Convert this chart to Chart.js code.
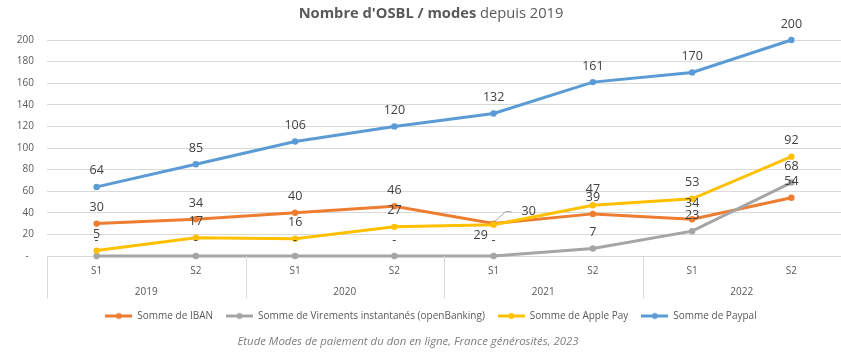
<!DOCTYPE html>
<html><head><meta charset="utf-8">
<script src="https://cdn.jsdelivr.net/npm/chart.js@4/dist/chart.umd.min.js"></script>
<style>html,body{margin:0;padding:0;background:#fff}canvas{display:block}</style>
</head><body>
<canvas id="c" width="841" height="355"></canvas>
<script>
// ---- data ----
const semesters = ['S1','S2','S1','S2','S1','S2','S1','S2'];
const years = ['2019','2020','2021','2022'];
const iban = [30,34,40,46,30,39,34,54];
const virements = [0,0,0,0,0,7,23,68];
const applePay = [5,17,16,27,29,47,53,92];
const paypal = [64,85,106,120,132,161,170,200];
const seriesNames = ['Somme de IBAN','Somme de Virements instantanés (openBanking)','Somme de Apple Pay','Somme de Paypal'];
const titleBold = "Nombre d'OSBL / modes";
const titleRest = " depuis 2019";
const sourceText = "Etude Modes de paiement du don en ligne, France générosités, 2023";

const colors = ['#ED7D31','#A5A5A5','#FFC000','#5B9BD5'];
const FONT = "'Open Sans', sans-serif";

function markerImage(color){
  const cv = document.createElement('canvas');
  cv.width = 27; cv.height = 9;
  const g = cv.getContext('2d');
  g.strokeStyle = color; g.lineWidth = 3;
  g.beginPath(); g.moveTo(0,4.5); g.lineTo(27,4.5); g.stroke();
  g.fillStyle = color; g.beginPath(); g.arc(13.5,4.5,3,0,Math.PI*2); g.fill();
  return cv;
}
const markers = colors.map(markerImage);

// special label placements: [datasetIndex-pointIndex] -> offset
const specialLabels = {
  '0-4': {dx: 35, dy: -12, leader: true},
  '2-4': {dx: -13, dy: 11}
};

const labelPlugin = {
  id: 'valueLabels',
  afterDatasetsDraw(chart){
    const ctx = chart.ctx;
    ctx.save();
    ctx.font = "12.5px " + FONT;
    ctx.fillStyle = '#404040';
    ctx.textAlign = 'center';
    ctx.textBaseline = 'middle';
    chart.data.datasets.forEach((ds, di) => {
      const meta = chart.getDatasetMeta(di);
      meta.data.forEach((pt, i) => {
        const v = ds.data[i];
        const txt = v === 0 ? '-' : String(v);
        const sp = specialLabels[di + '-' + i];
        let x = pt.x, y = pt.y - 16;
        if (sp) {
          x = pt.x + sp.dx; y = pt.y + sp.dy;
          if (sp.leader) {
            ctx.save();
            ctx.strokeStyle = '#A6A6A6'; ctx.lineWidth = 1;
            ctx.beginPath();
            ctx.moveTo(pt.x + 1, pt.y - 2);
            ctx.lineTo(pt.x + 12, pt.y - 12);
            ctx.lineTo(pt.x + 18, pt.y - 12);
            ctx.stroke();
            ctx.restore();
          }
        }
        ctx.fillText(txt, x, y);
      });
    });
    ctx.restore();
  }
};

const decorPlugin = {
  id: 'decor',
  afterLayout(chart){
    if (chart.legend) { chart.legend.left -= 13; chart.legend.right -= 13; }
  },
  afterDraw(chart){
    const ctx = chart.ctx;
    const xs = chart.scales.x;
    const area = chart.chartArea;
    ctx.save();
    // title
    ctx.textBaseline = 'middle';
    ctx.fillStyle = '#595959';
    const fb = "bold 14.7px " + FONT, fn = "14.7px " + FONT;
    ctx.font = fb; const wb = ctx.measureText(titleBold).width;
    ctx.font = fn; const wn = ctx.measureText(titleRest).width;
    let tx = 431 - (wb + wn) / 2;
    ctx.textAlign = 'left';
    ctx.font = fb; ctx.fillText(titleBold, tx, 14);
    ctx.font = fn; ctx.fillText(titleRest, tx + wb, 14);
    // year groups and separators
    const step = xs.getPixelForValue(1) - xs.getPixelForValue(0);
    ctx.strokeStyle = '#D9D9D9'; ctx.lineWidth = 1;
    for (let k = 0; k <= years.length; k++) {
      const bx = Math.round(xs.getPixelForValue(k * 2) - step / 2) + 0.5;
      ctx.beginPath(); ctx.moveTo(bx, area.bottom); ctx.lineTo(bx, area.bottom + 42); ctx.stroke();
    }
    ctx.font = "10px " + FONT;
    ctx.textAlign = 'center';
    ctx.fillStyle = '#595959';
    years.forEach((yr, k) => {
      const cx = (xs.getPixelForValue(k * 2) + xs.getPixelForValue(k * 2 + 1)) / 2;
      ctx.fillText(yr, cx, area.bottom + 36);
    });
    // source
    ctx.font = "italic 11.4px " + FONT;
    ctx.fillStyle = '#7F7F7F';
    ctx.fillText(sourceText, 408, 342);
    ctx.restore();
  }
};

const seriesData = [iban, virements, applePay, paypal];
const datasets = seriesData.map((d, i) => ({
  label: seriesNames[i],
  data: d,
  borderColor: colors[i],
  backgroundColor: colors[i],
  borderWidth: 3,
  pointRadius: 3.2,
  pointBorderWidth: 0,
  pointBackgroundColor: colors[i],
  tension: 0,
  clip: false,
  order: 4 - i
}));

new Chart(document.getElementById('c'), {
  type: 'line',
  data: { labels: semesters, datasets },
  options: {
    responsive: false,
    animation: false,
    devicePixelRatio: 1,
    layout: { autoPadding: false, padding: { top: 40, bottom: 24, left: 0, right: 0 } },
    scales: {
      x: {
        offset: true,
        grid: { display: false, drawTicks: false },
        border: { display: true, color: '#D9D9D9', width: 1 },
        ticks: { font: { family: FONT, size: 10 }, color: '#595959', padding: 9, maxRotation: 0, autoSkip: false },
        afterFit(s){ s.height = 42; }
      },
      y: {
        min: 0, max: 200,
        grid: { color: '#D9D9D9', drawTicks: false, lineWidth: 1 },
        border: { display: false },
        ticks: {
          stepSize: 20,
          font: { family: FONT, size: 10 }, color: '#595959', padding: 13,
          callback: v => v === 0 ? '-  ' : v
        },
        afterFit(s){ s.width = 47; }
      }
    },
    plugins: {
      title: { display: false },
      tooltip: { enabled: false },
      legend: {
        position: 'bottom',
        fullSize: false,
        labels: {
          usePointStyle: true,
          pointStyleWidth: 27,
          padding: 13,
          font: { family: FONT, size: 10 },
          color: '#595959',
          sort: (a, b) => a.datasetIndex - b.datasetIndex,
          generateLabels(chart){
            const items = Chart.defaults.plugins.legend.labels.generateLabels(chart);
            items.forEach(it => { it.pointStyle = markers[it.datasetIndex]; });
            return items;
          }
        }
      }
    }
  },
  plugins: [labelPlugin, decorPlugin]
});
</script>
</body></html>
